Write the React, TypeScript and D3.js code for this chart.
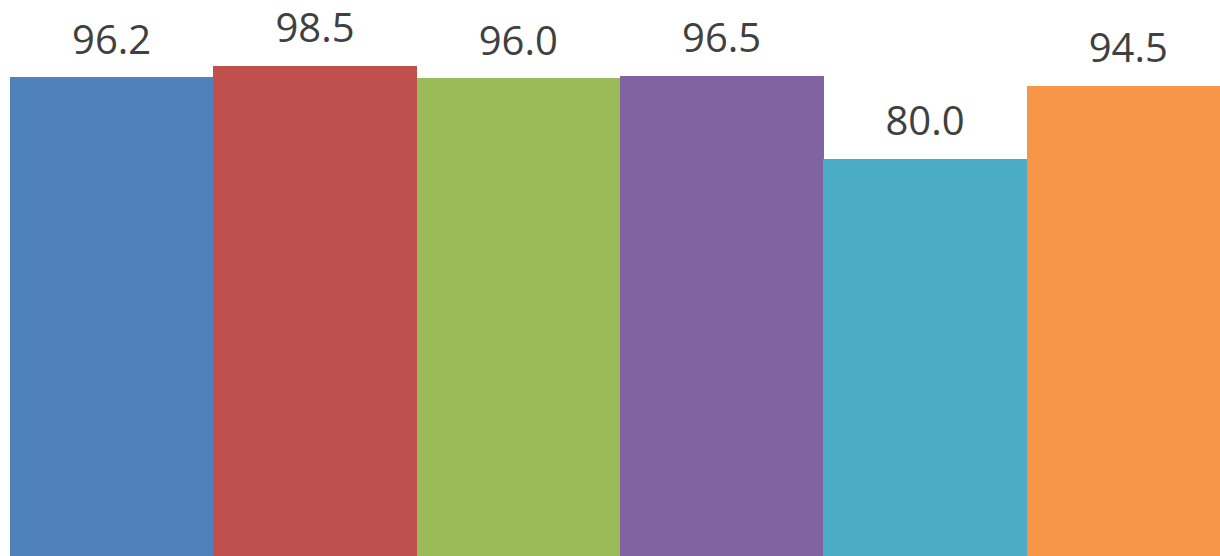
import React from "react";
import * as d3 from "d3";

const categories = ["C1", "C2", "C3", "C4", "C5", "C6"];
const values = [96.2, 98.5, 96.0, 96.5, 80.0, 94.5];
const colors = ["#4F81BD", "#C0504D", "#9BBB59", "#8064A2", "#4BACC6", "#F79646"];

const W = 1220;
const H = 556;

export default function App() {
  const x = d3
    .scaleBand<string>()
    .domain(categories)
    .range([10, 10 + 6 * 203.33])
    .padding(0);
  const y = d3.scaleLinear().domain([0, 110]).range([561, 8]);

  return (
    <svg
      width={W}
      height={H}
      style={{ position: "fixed", left: 0, top: 0, background: "#fff" }}
    >
      {categories.map((c, i) => (
        <rect
          key={c}
          x={x(c)!}
          y={y(values[i])}
          width={x.bandwidth() + 0.5}
          height={y(0) - y(values[i])}
          fill={colors[i]}
          shapeRendering="crispEdges"
        />
      ))}
      {categories.map((c, i) => (
        <text
          key={"l" + c}
          x={x(c)! + x.bandwidth() / 2}
          y={y(values[i]) - 23.5}
          textAnchor="middle"
          fontFamily="'Open Sans', sans-serif"
          fontSize={40}
          fill="#404040"
        >
          {d3.format(".1f")(values[i])}
        </text>
      ))}
    </svg>
  );
}
